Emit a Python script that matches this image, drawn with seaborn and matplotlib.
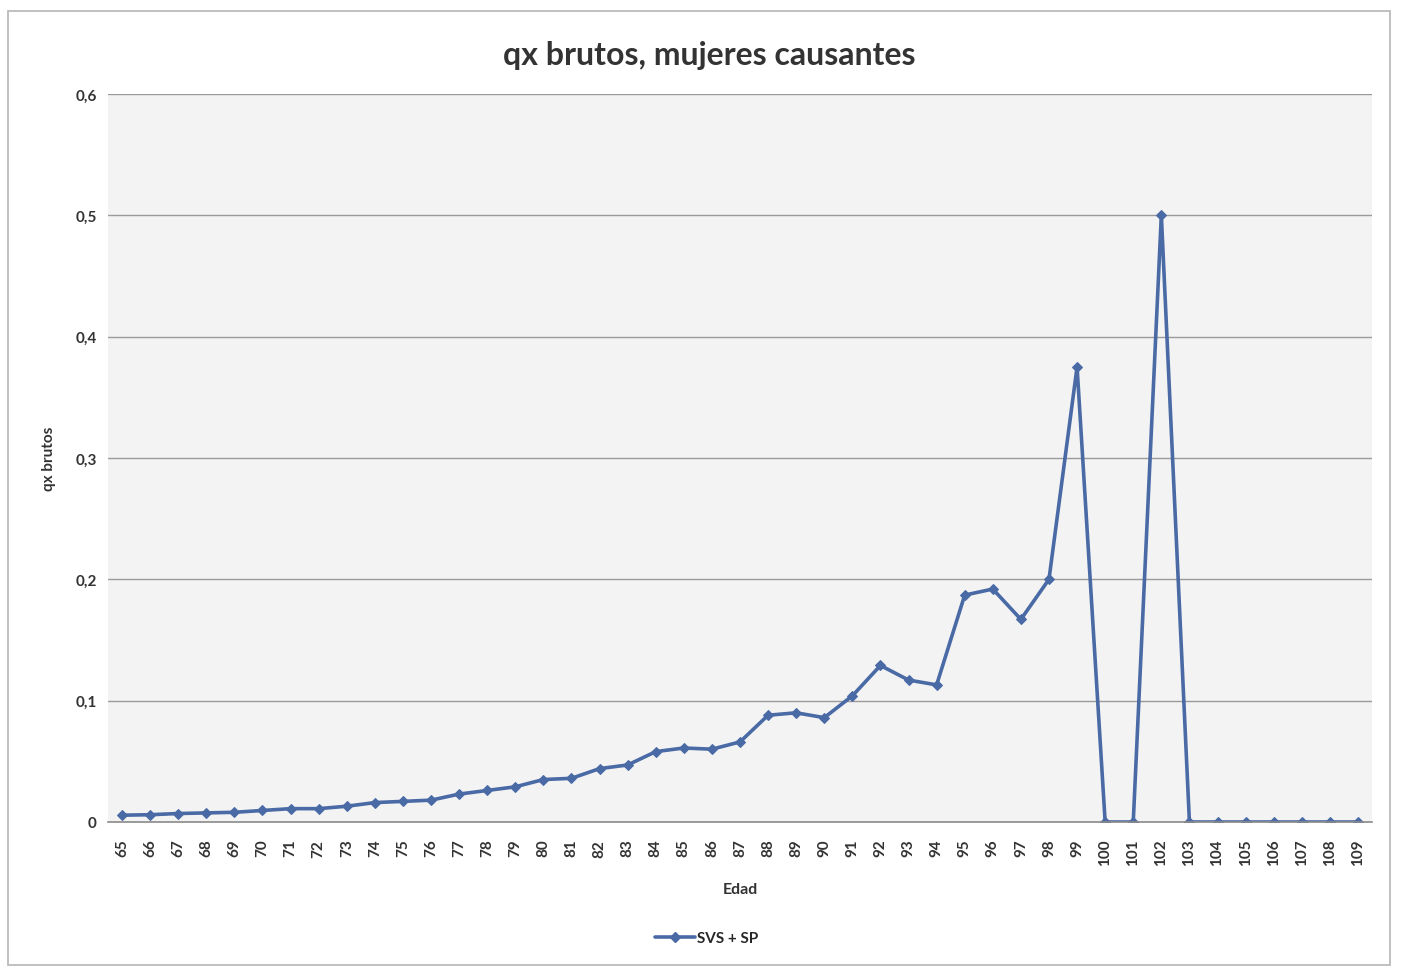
import matplotlib
matplotlib.use("Agg")
import matplotlib.pyplot as plt
import seaborn as sns
import pandas as pd
from matplotlib.patches import Rectangle
from matplotlib.lines import Line2D

ages = list(range(65, 110))
qx = [0.0056, 0.006, 0.007, 0.0075, 0.008, 0.0095, 0.011, 0.011, 0.013, 0.016,
      0.017, 0.018, 0.023, 0.026, 0.029, 0.035, 0.036, 0.044, 0.047, 0.058,
      0.061, 0.060, 0.066, 0.088, 0.090, 0.086, 0.104, 0.129, 0.117, 0.113,
      0.187, 0.192, 0.167, 0.200, 0.375, 0.0, 0.0, 0.500, 0.0, 0.0,
      0.0, 0.0, 0.0, 0.0, 0.0]
yticks = [0, 0.1, 0.2, 0.3, 0.4, 0.5, 0.6]
ytick_labels = ["0", "0,1", "0,2", "0,3", "0,4", "0,5", "0,6"]
series_name = "SVS + SP"
title = "qx brutos, mujeres causantes"
xlabel = "Edad"
ylabel = "qx brutos"

df = pd.DataFrame({"Edad": ages, "qx": qx})

sns.set_theme(style="white")
plt.rcParams["font.family"] = ["Lato", "DejaVu Sans"]

color = "#4a6aa6"
fig = plt.figure(figsize=(14.05, 9.70), dpi=100)
fig.patch.set_facecolor("white")
ax = fig.add_axes([108 / 1405, 1 - 823 / 970, (1372 - 108) / 1405, (823 - 95) / 970])
ax.set_facecolor("#f3f3f3")

sns.lineplot(data=df, x="Edad", y="qx", ax=ax, color=color, linewidth=2.6,
             marker="D", markersize=5, markeredgecolor=color, legend=False)

ax.set_xlim(64.5, 109.5)
ax.set_ylim(0, 0.6)
ax.set_xticks(ages)
ax.set_xticklabels([str(a) for a in ages], rotation=90, fontsize=11,
                   fontweight="bold", color="#333333")
ax.set_yticks(yticks)
ax.set_yticklabels(ytick_labels, fontsize=11, fontweight="bold", color="#333333")
ax.tick_params(axis="y", length=0, pad=8)
ax.tick_params(axis="x", length=0, pad=12)

for y in yticks[1:]:
    ax.axhline(y, color="#9a9a9a", linewidth=1.0, zorder=0)

for side in ["top", "right", "left"]:
    ax.spines[side].set_visible(False)
ax.spines["bottom"].set_color("#8a8a8a")
ax.spines["bottom"].set_linewidth(1.2)

ax.set_xlabel(xlabel, fontsize=11.5, fontweight="bold", color="#333333", labelpad=12)
ax.set_ylabel(ylabel, fontsize=11, fontweight="bold", color="#333333", labelpad=14)

fig.text(0.505, 0.943, title, ha="center", va="center", fontsize=23,
         fontweight="bold", color="#333333")

handle = Line2D([], [], color=color, linewidth=2.6, marker="D", markersize=5)
fig.legend([handle], [series_name], loc="center", bbox_to_anchor=(0.503, 0.032),
           frameon=False, handlelength=2.6, handletextpad=0.1,
           prop={"weight": "bold", "size": 11})

fig.add_artist(Rectangle((8 / 1405, 1 - 966 / 970), (1390 - 8) / 1405, (966 - 12) / 970,
                         transform=fig.transFigure, fill=False,
                         edgecolor="#b5b5b5", linewidth=1.2))

fig.savefig("out.png", dpi=100, facecolor="white")
